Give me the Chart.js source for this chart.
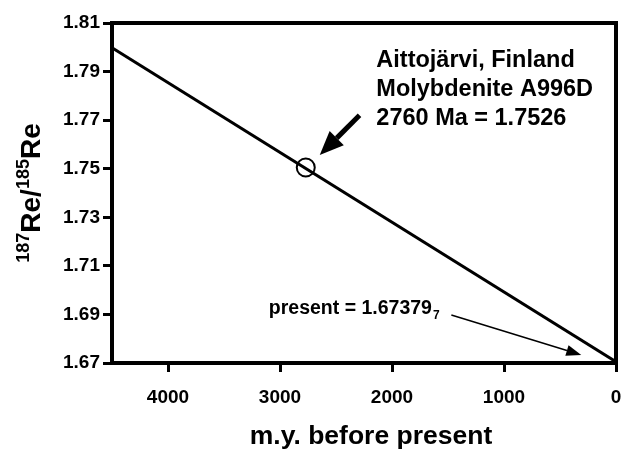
<!DOCTYPE html>
<html>
<head>
<meta charset="utf-8">
<script src="https://cdn.jsdelivr.net/npm/chart.js@4"></script>
<style>
  html, body { margin: 0; padding: 0; background: #fff; }
  canvas { display: block; }
</style>
</head>
<body>
<canvas id="reChart" width="627" height="451"></canvas>
<script>
// data
const lineAge = [4500, 0];
const lineRatio = [1.7998, 1.6705];
const sampleAge = [2770];
const sampleRatio = [1.7505];
const xTickValues = [4000, 3000, 2000, 1000, 0];
const yTickValues = [1.67, 1.69, 1.71, 1.73, 1.75, 1.77, 1.79, 1.81];

const FONT = "'Liberation Sans', Arial, sans-serif";

// annotations (data coordinates)
const noteLines = ["Aittojärvi, Finland", "Molybdenite A996D", "2760 Ma = 1.7526"];
const noteAnchor = { x: 2140, y: 1.7918 };
const bigArrow = { from: { x: 2290, y: 1.7720 }, to: { x: 2645, y: 1.7556 } };
const presentLabel = { x: 3100, y: 1.6900, text: "present = 1.67379", sub: "7" };
const thinArrow = { from: { x: 1470, y: 1.6898 }, to: { x: 310, y: 1.6733 } };

function drawArrow(ctx, x1, y1, x2, y2, shaft, headLen, headW) {
  const ang = Math.atan2(y2 - y1, x2 - x1);
  const bx = x2 - headLen * Math.cos(ang);
  const by = y2 - headLen * Math.sin(ang);
  ctx.lineWidth = shaft;
  ctx.beginPath();
  ctx.moveTo(x1, y1);
  ctx.lineTo(bx, by);
  ctx.stroke();
  ctx.beginPath();
  ctx.moveTo(x2, y2);
  ctx.lineTo(bx + headW / 2 * Math.sin(ang), by - headW / 2 * Math.cos(ang));
  ctx.lineTo(bx - headW / 2 * Math.sin(ang), by + headW / 2 * Math.cos(ang));
  ctx.closePath();
  ctx.fill();
}

const decorPlugin = {
  id: "decor",
  afterDraw(chart) {
    const { ctx, chartArea: a, scales } = chart;
    const px = v => scales.x.getPixelForValue(v);
    const py = v => scales.y.getPixelForValue(v);
    ctx.save();
    ctx.strokeStyle = "#000";
    ctx.fillStyle = "#000";

    // frame
    ctx.lineWidth = 4;
    ctx.strokeRect(a.left, a.top, a.right - a.left, a.bottom - a.top);

    // sample note
    ctx.font = "bold 23.5px " + FONT;
    ctx.textBaseline = "alphabetic";
    ctx.textAlign = "left";
    noteLines.forEach((t, i) => ctx.fillText(t, px(noteAnchor.x), py(noteAnchor.y) + i * 29));
    drawArrow(ctx, px(bigArrow.from.x), py(bigArrow.from.y), px(bigArrow.to.x), py(bigArrow.to.y), 5, 24, 20);

    // present value note
    ctx.font = "bold 19.5px " + FONT;
    const lx = px(presentLabel.x), ly = py(presentLabel.y);
    ctx.fillText(presentLabel.text, lx, ly);
    const w = ctx.measureText(presentLabel.text).width;
    ctx.font = "bold 12px " + FONT;
    ctx.fillText(presentLabel.sub, lx + w + 1, ly + 5);
    drawArrow(ctx, px(thinArrow.from.x), py(thinArrow.from.y), px(thinArrow.to.x), py(thinArrow.to.y), 1.5, 15, 11);

    // y axis title with superscripts
    const parts = [["187", true], ["Re/", false], ["185", true], ["Re", false]];
    const big = "bold 28px " + FONT, small = "bold 18px " + FONT;
    let total = 0;
    parts.forEach(([t, sup]) => { ctx.font = sup ? small : big; total += ctx.measureText(t).width; });
    ctx.translate(40, (a.top + a.bottom) / 2);
    ctx.rotate(-Math.PI / 2);
    let cx = -total / 2;
    parts.forEach(([t, sup]) => {
      ctx.font = sup ? small : big;
      ctx.fillText(t, cx, sup ? -11 : 0);
      cx += ctx.measureText(t).width;
    });
    ctx.restore();

    // x axis title
    ctx.save();
    ctx.font = "bold 26.5px " + FONT;
    ctx.textAlign = "center";
    ctx.fillStyle = "#000";
    ctx.fillText("m.y. before present", 371, 444);
    ctx.restore();
  }
};

new Chart(document.getElementById("reChart"), {
  type: "scatter",
  data: {
    datasets: [
      {
        data: lineAge.map((x, i) => ({ x, y: lineRatio[i] })),
        showLine: true,
        borderColor: "#000",
        borderWidth: 3,
        pointRadius: 0
      },
      {
        data: sampleAge.map((x, i) => ({ x, y: sampleRatio[i] })),
        pointRadius: 9,
        pointStyle: "circle",
        borderColor: "#000",
        borderWidth: 2,
        backgroundColor: "rgba(0,0,0,0)"
      }
    ]
  },
  plugins: [decorPlugin],
  options: {
    responsive: false,
    animation: false,
    layout: { padding: { top: 23, right: 9, left: 0, bottom: 0 } },
    plugins: { legend: { display: false }, tooltip: { enabled: false } },
    scales: {
      x: {
        type: "linear",
        reverse: true,
        min: 0,
        max: 4500,
        afterBuildTicks: s => { s.ticks = xTickValues.map(v => ({ value: v })); },
        afterFit: s => { s.height = 88; s.paddingLeft = 0; s.paddingRight = 0; },
        border: { display: false },
        grid: { drawOnChartArea: false, drawTicks: true, tickLength: 9, color: "#000", lineWidth: 3 },
        ticks: {
          color: "#000",
          padding: 14,
          maxRotation: 0,
          font: { family: FONT, size: 19, weight: "bold" },
          callback: v => String(v)
        }
      },
      y: {
        type: "linear",
        min: 1.67,
        max: 1.81,
        afterBuildTicks: s => { s.ticks = yTickValues.map(v => ({ value: v })); },
        afterFit: s => { s.width = 112; },
        border: { display: false },
        grid: { drawOnChartArea: false, drawTicks: true, tickLength: 9, color: "#000", lineWidth: 3 },
        ticks: {
          color: "#000",
          padding: 3,
          font: { family: FONT, size: 19, weight: "bold" },
          callback: v => v.toFixed(2)
        }
      }
    }
  }
});
</script>
</body>
</html>
